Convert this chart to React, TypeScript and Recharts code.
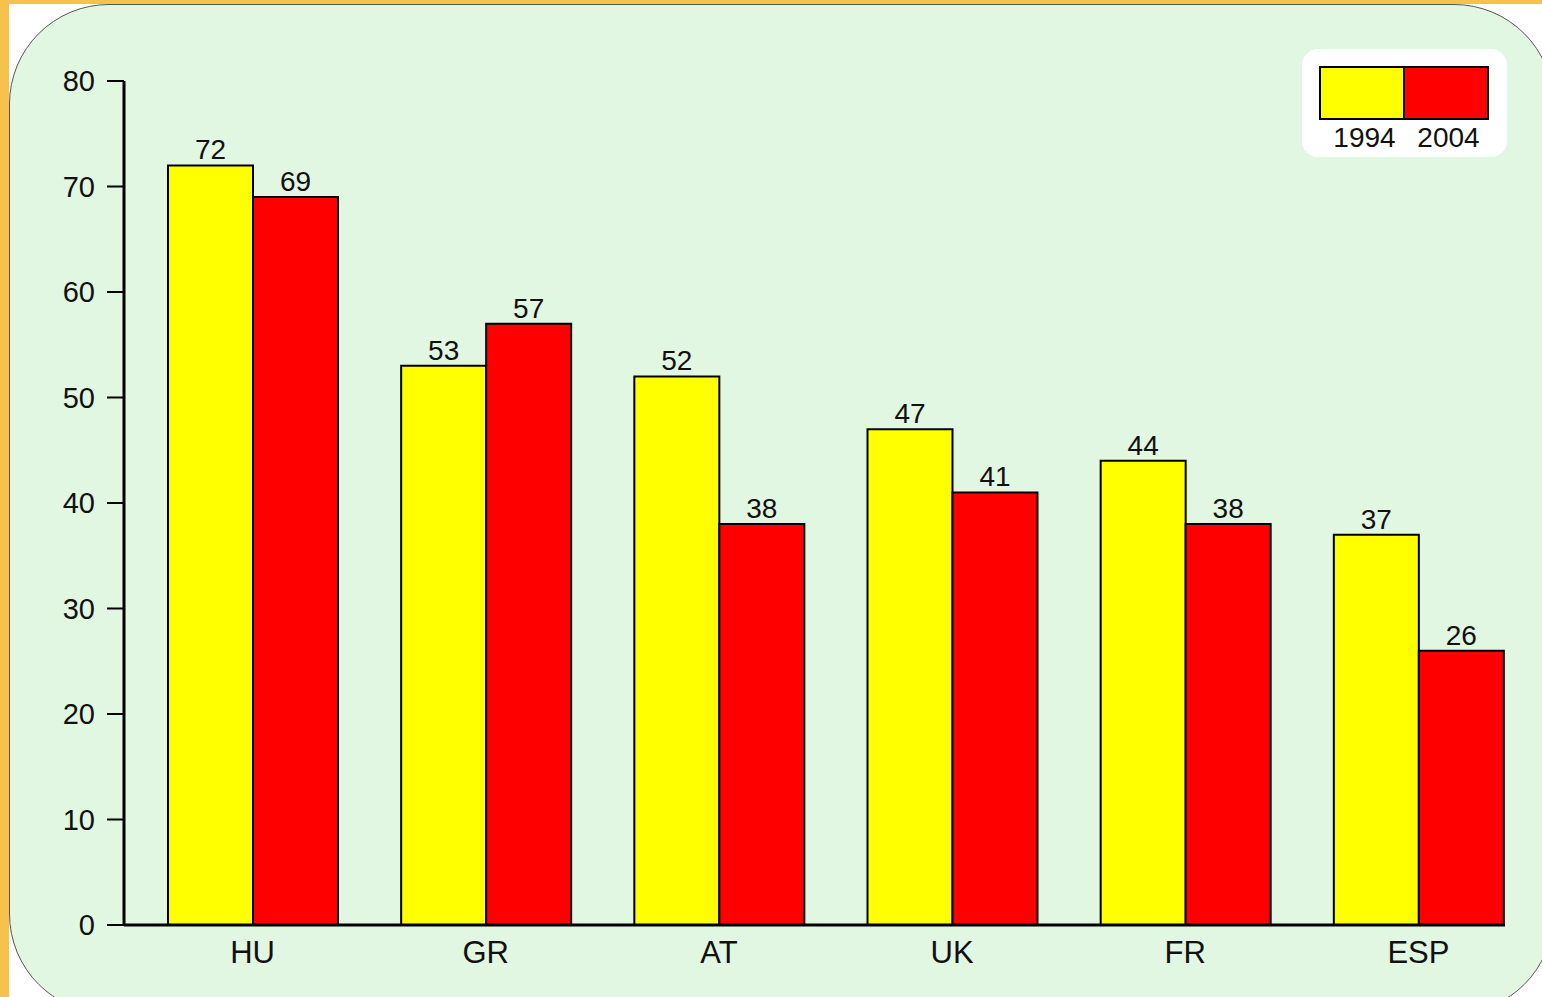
import { BarChart, Bar, XAxis, YAxis, LabelList } from "recharts";

const countries = ["HU", "GR", "AT", "UK", "FR", "ESP"];
const values1994 = [72, 53, 52, 47, 44, 37];
const values2004 = [69, 57, 38, 41, 38, 26];
const yTicks = [0, 10, 20, 30, 40, 50, 60, 70, 80];
const seriesNames = ["1994", "2004"];

const data = countries.map((c, i) => ({
  country: c,
  y1994: values1994[i],
  y2004: values2004[i],
}));

const font = "'Liberation Sans', Arial, sans-serif";

function LegendBox() {
  return (
    <div
      style={{
        position: "absolute",
        left: 1302,
        top: 49,
        background: "#fff",
        borderRadius: 16,
        width: 205,
        height: 108,
        boxSizing: "border-box",
        paddingTop: 17,
        paddingLeft: 17,
        fontFamily: font,
      }}
    >
      <div style={{ display: "flex" }}>
        <div style={{ width: 85, height: 54, background: "#ffff00", border: "2px solid #000", borderRight: "1px solid #000", boxSizing: "border-box" }} />
        <div style={{ width: 85, height: 54, background: "#ff0000", border: "2px solid #000", borderLeft: "1px solid #000", boxSizing: "border-box" }} />
      </div>
      <div style={{ display: "flex", fontSize: 28, color: "#111", lineHeight: "34px", paddingTop: 1 }}>
        <div style={{ width: 85, textAlign: "center", paddingLeft: 6, boxSizing: "border-box" }}>{seriesNames[0]}</div>
        <div style={{ width: 85, textAlign: "center", paddingLeft: 4, boxSizing: "border-box" }}>{seriesNames[1]}</div>
      </div>
    </div>
  );
}

export default function App() {
  return (
    <div style={{ position: "fixed", left: 0, top: 0, width: 1542, height: 997, background: "#fff", overflow: "hidden" }}>
      <div style={{ position: "absolute", left: 0, top: 0, width: 9, height: 997, background: "#f7c24c" }} />
      <div style={{ position: "absolute", left: 0, top: 0, width: 1542, height: 4, background: "#f7c24c" }} />
      <div
        style={{
          position: "absolute",
          left: 9,
          top: 4,
          width: 1545,
          height: 1010,
          background: "#e2f7e2",
          border: "1px solid #555",
          borderRadius: 100,
          boxSizing: "border-box",
        }}
      />
      <div style={{ position: "absolute", left: 0, top: 0 }}>
        <BarChart
          width={1542}
          height={997}
          data={data}
          margin={{ top: 81, right: 37, bottom: 12, left: 0 }}
          barGap={0}
          barCategoryGap={32}
        >
          <YAxis
            width={124}
            domain={[0, 80]}
            ticks={yTicks}
            interval={0}
            tickSize={17}
            tickMargin={12}
            axisLine={{ stroke: "#000", strokeWidth: 3 }}
            tickLine={{ stroke: "#000", strokeWidth: 2 }}
            tick={{ fill: "#111", fontSize: 29, fontFamily: font }}
          />
          <XAxis
            dataKey="country"
            height={60}
            padding={{ left: 12, right: -30 }}
            tickSize={0}
            tickMargin={16}
            axisLine={{ stroke: "#000", strokeWidth: 3 }}
            tickLine={false}
            tick={{ fill: "#111", fontSize: 31, fontFamily: font }}
          />
          <Bar dataKey="y1994" name={seriesNames[0]} fill="#ffff00" stroke="#000" strokeWidth={2} isAnimationActive={false}>
            <LabelList dataKey="y1994" position="top" offset={6} fill="#111" fontSize={28} fontFamily={font} />
          </Bar>
          <Bar dataKey="y2004" name={seriesNames[1]} fill="#ff0000" stroke="#000" strokeWidth={2} isAnimationActive={false}>
            <LabelList dataKey="y2004" position="top" offset={6} fill="#111" fontSize={28} fontFamily={font} />
          </Bar>
        </BarChart>
      </div>
      <LegendBox />
    </div>
  );
}
